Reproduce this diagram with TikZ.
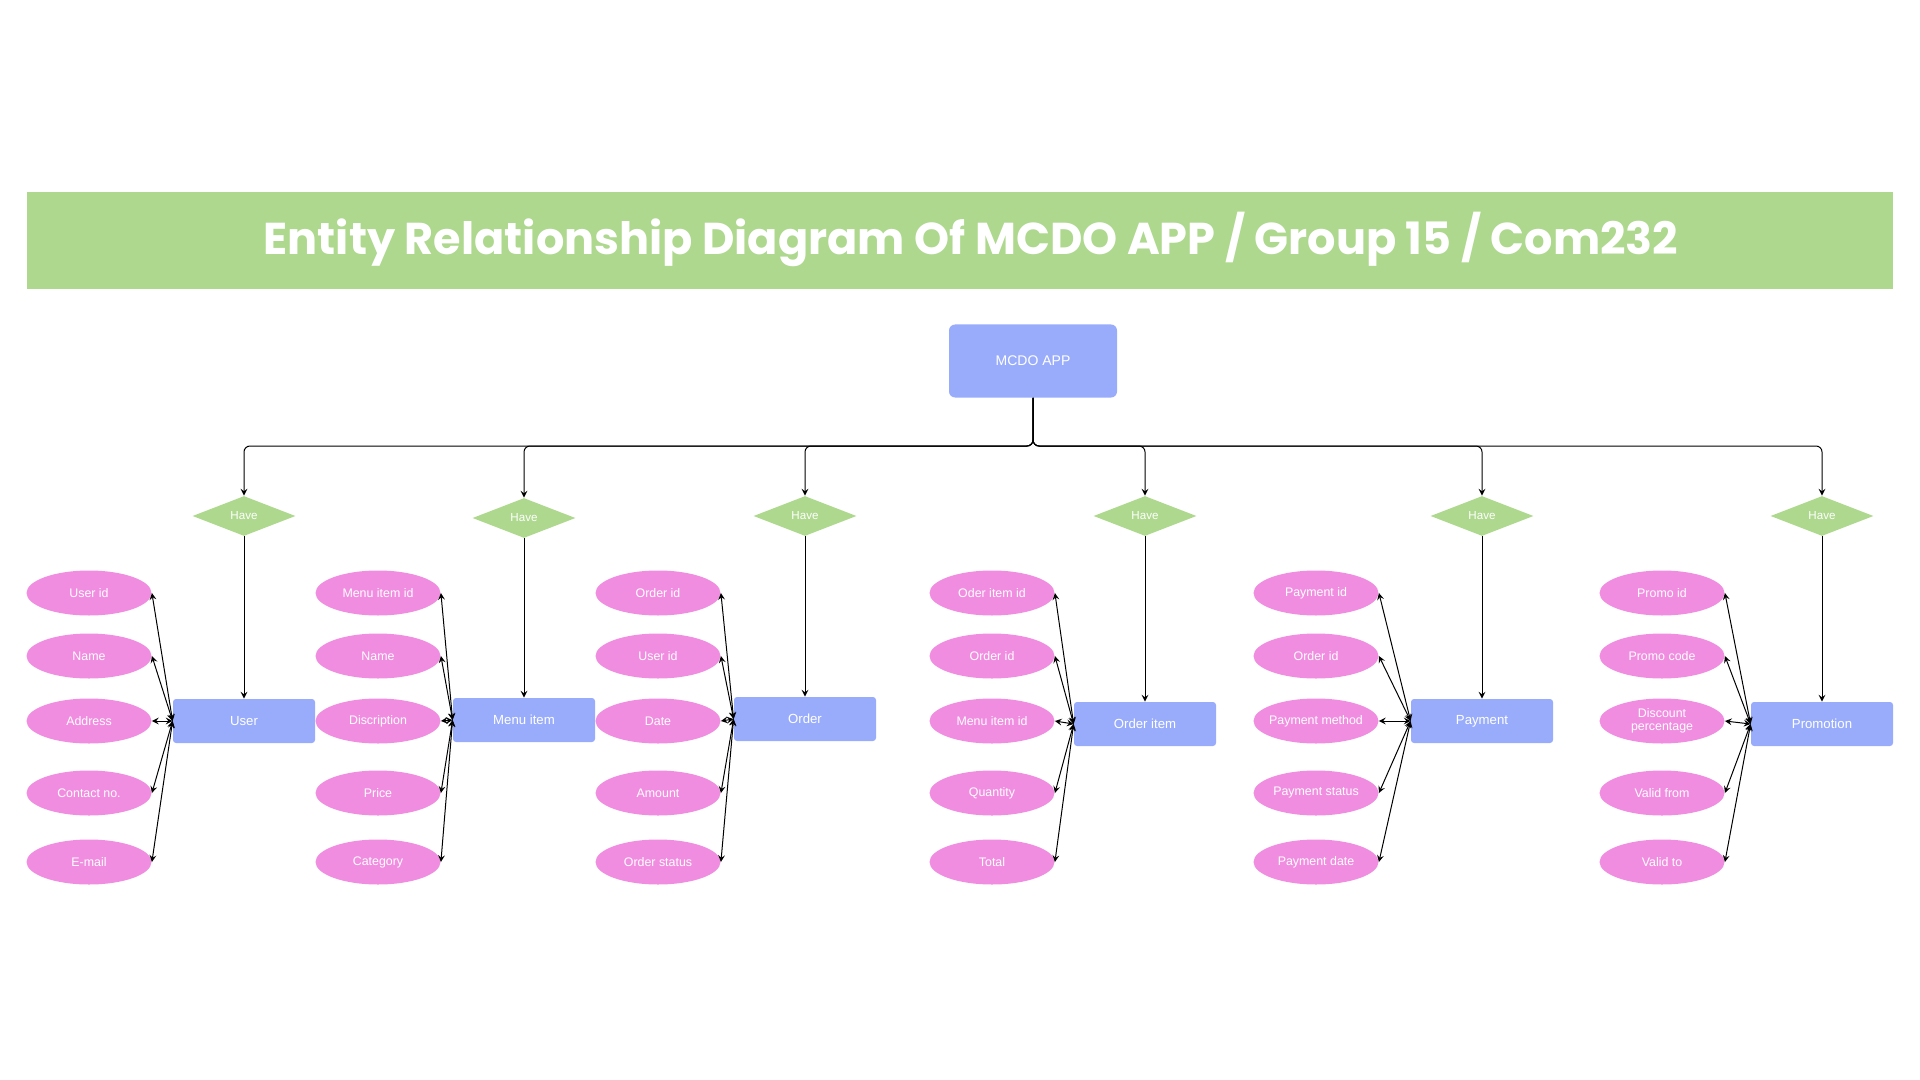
\documentclass[tikz,border=0pt]{standalone}
\usepackage{fontspec}
\setmainfont{Liberation Sans}
\newfontfamily\titlefont{Poppins}
\usetikzlibrary{shapes.geometric,arrows}
\definecolor{bannergreen}{HTML}{ADD88D}
\definecolor{entityblue}{HTML}{99ACFC}
\definecolor{attrpink}{HTML}{F18DE0}
\begin{document}
\begin{tikzpicture}[x=0.5pt,y=-0.5pt,
  entity/.style={rectangle, rounded corners=1.5pt, fill=entityblue, text=white, minimum width=71pt, minimum height=22pt, inner sep=0pt, font=\fontsize{6.6}{7}\selectfont},
  attr/.style={ellipse, fill=attrpink, text=white, minimum width=62.5pt, minimum height=22.5pt, inner sep=-3pt, align=center, font=\fontsize{6.2}{6.6}\selectfont},
  rel/.style={diamond, fill=bannergreen, text=white, minimum width=51.5pt, minimum height=20pt, inner sep=0pt, aspect=2.5, font=\fontsize{5.8}{6}\selectfont},
  link/.style={line width=0.5pt, >=stealth}]
  \useasboundingbox (0,0) rectangle (1920,1080);
  % banner
  \fill[bannergreen] (27,192) rectangle (1893,289);
  \node[text=white, font=\titlefont\bfseries\fontsize{22.3}{25}\selectfont] (title) at (971,239) {Entity Relationship Diagram Of MCDO APP / Group 15 / Com232};
  \node[entity, rounded corners=3pt, minimum width=84pt, minimum height=36.5pt, font=\fontsize{7}{8}\selectfont] (app) at (1033,361) {MCDO APP};
  \coordinate (bus) at (0,446);
  % relationships and entities
  \node[rel] (h1) at (244,516) {Have};
  \node[rel] (h2) at (524,518) {Have};
  \node[rel] (h3) at (805,516) {Have};
  \node[rel] (h4) at (1145,516) {Have};
  \node[rel] (h5) at (1482,516) {Have};
  \node[rel] (h6) at (1822,516) {Have};
  \node[entity] (user) at (244,721) {User};
  \node[entity] (menu) at (524,720) {Menu item};
  \node[entity] (order) at (805,719) {Order};
  \node[entity] (orderitem) at (1145,724) {Order item};
  \node[entity] (payment) at (1482,721) {Payment};
  \node[entity] (promo) at (1822,724) {Promotion};
  % attributes
  \foreach \t/\y [count=\r] in {User id/593,Name/656,Address/721,Contact no./793,E-mail/862}
    \node[attr] (user-\r) at (89,\y) {\t};
  \foreach \t/\y [count=\r] in {Menu item id/593,Name/656,Discription/721,Price/793,Category/862}
    \node[attr] (menu-\r) at (378,\y) {\t};
  \foreach \t/\y [count=\r] in {Order id/593,User id/656,Date/721,Amount/793,Order status/862}
    \node[attr] (order-\r) at (658,\y) {\t};
  \foreach \t/\y [count=\r] in {Oder item id/593,Order id/656,Menu item id/721,Quantity/793,Total/862}
    \node[attr] (orderitem-\r) at (992,\y) {\t};
  \foreach \t/\y [count=\r] in {Payment id/593,Order id/656,Payment method/721,Payment status/793,Payment date/862}
    \node[attr] (payment-\r) at (1316,\y) {\t};
  \foreach \t/\y [count=\r] in {Promo id/593,Promo code/656,{Discount\\percentage}/721,Valid from/793,Valid to/862}
    \node[attr] (promo-\r) at (1662,\y) {\t};
  % connectors
  \foreach \h in {h1,h2,h3,h4,h5,h6}
    \draw[link, ->, rounded corners=3pt] (app.south) -- (app.south |- bus) -| (\h.north);
  \path[link, ->]
  (h1) edge (user.north)
  (h2) edge (menu.north)
  (h3) edge (order.north)
  (h4) edge (orderitem.north)
  (h5) edge (payment.north)
  (h6) edge (promo.north)
  ;
  \foreach \e in {user,menu,order,orderitem,payment,promo}
    \foreach \r in {1,...,5}
      \draw[link, <->] (\e.west) -- (\e-\r.east);
\end{tikzpicture}
\end{document}
